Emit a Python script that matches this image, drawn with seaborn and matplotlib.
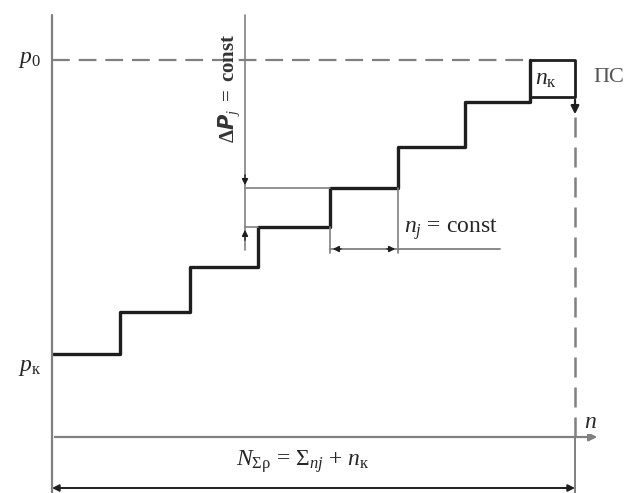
import numpy as np
import pandas as pd
import matplotlib
matplotlib.use('Agg')
import matplotlib.pyplot as plt
import seaborn as sns

# Diagram geometry, in drawing units (x ~ n, y ~ p)
step_edges = [53, 120, 190, 258, 330, 398, 465, 530]
step_levels = [139, 181, 226, 266, 305, 346, 391]
p0_level = 433
box_right = 575
box_bottom = 396
n_axis_level = 56
axis_x = 52
axis_top = 478
dim_level = 5
dp_line_x = 245
nj_level = 244
nj_line_end = 500
n_arrow_end = 600

sns.set_style('white')
plt.rcParams['mathtext.fontset'] = 'custom'
plt.rcParams['mathtext.rm'] = 'Liberation Serif'
plt.rcParams['mathtext.it'] = 'Liberation Serif:italic'
plt.rcParams['mathtext.bf'] = 'Liberation Serif:bold'
plt.rcParams['font.family'] = ['Liberation Serif', 'DejaVu Serif']

fig = plt.figure(figsize=(6.29, 4.93), dpi=100)
ax = fig.add_axes([0, 0, 1, 1])
ax.set_xlim(0, 629)
ax.set_ylim(0, 493)
ax.axis('off')

grey = '#808080'
dark = '#1e1e1e'

# staircase
xs, ys = [], []
for i, lev in enumerate(step_levels):
    xs += [step_edges[i], step_edges[i + 1]]
    ys += [lev, lev]
xs.append(step_edges[-1])
ys.append(p0_level)
stairs = pd.DataFrame({'n': xs, 'p': ys})
sns.lineplot(data=stairs, x='n', y='p', sort=False, estimator=None,
             color=dark, lw=2.4, ax=ax)

# small box n_k
box = pd.DataFrame({'n': [step_edges[-1], box_right, box_right, step_edges[-1]],
                    'p': [p0_level, p0_level, box_bottom, box_bottom]})
sns.lineplot(data=box, x='n', y='p', sort=False, estimator=None,
             color=dark, lw=2.0, ax=ax)

# axes
ax.plot([axis_x, axis_x], [0, axis_top], color=grey, lw=1.6)
ax.annotate('', xy=(n_arrow_end, n_axis_level), xytext=(axis_x, n_axis_level),
            arrowprops=dict(arrowstyle='-|>', color=grey, lw=1.6,
                            mutation_scale=12))

# p0 dashed level
ax.plot([axis_x, step_edges[-1]], [p0_level, p0_level], color=grey, lw=1.6,
        ls=(0, (8, 4)))

# vertical dashed at end of process
ax.plot([box_right, box_right], [box_bottom - 20, n_axis_level], color=grey,
        lw=1.8, ls=(0, (8, 4)))
ax.plot([box_right, box_right], [n_axis_level, 0], color=grey, lw=1.4)
ax.annotate('', xy=(box_right, box_bottom - 20), xytext=(box_right, box_bottom),
            arrowprops=dict(arrowstyle='-|>', color=dark, lw=1.6,
                            mutation_scale=12))

# delta P dimension
ax.plot([dp_line_x, dp_line_x], [step_levels[2] + 17, axis_top], color=grey, lw=1.2)
ax.plot([dp_line_x, step_edges[4]], [step_levels[4], step_levels[4]], color=grey, lw=1.2)
ax.plot([dp_line_x, step_edges[3]], [step_levels[3], step_levels[3]], color=grey, lw=1.2)
ax.annotate('', xy=(dp_line_x, step_levels[4]), xytext=(dp_line_x, step_levels[4] + 16),
            arrowprops=dict(arrowstyle='-|>', color=dark, lw=1.0, mutation_scale=9))
ax.annotate('', xy=(dp_line_x, step_levels[3]), xytext=(dp_line_x, step_levels[3] - 16),
            arrowprops=dict(arrowstyle='-|>', color=dark, lw=1.0, mutation_scale=9))

# n_j dimension
ax.plot([step_edges[4], step_edges[4]], [step_levels[3], nj_level - 4], color=grey, lw=1.2)
ax.plot([step_edges[5], step_edges[5]], [step_levels[4], nj_level - 4], color=grey, lw=1.2)
ax.plot([step_edges[4], nj_line_end], [nj_level, nj_level], color=grey, lw=1.3)
ax.annotate('', xy=(step_edges[4], nj_level), xytext=(step_edges[4] + 14, nj_level),
            arrowprops=dict(arrowstyle='-|>', color=dark, lw=1.0, mutation_scale=9))
ax.annotate('', xy=(step_edges[5], nj_level), xytext=(step_edges[5] - 14, nj_level),
            arrowprops=dict(arrowstyle='-|>', color=dark, lw=1.0, mutation_scale=9))

# total length dimension
ax.annotate('', xy=(axis_x, dim_level), xytext=(box_right, dim_level),
            arrowprops=dict(arrowstyle='<|-|>', color=dark, lw=1.4,
                            mutation_scale=10, shrinkA=0, shrinkB=0))

# labels
fs = 17
white = dict(facecolor='white', edgecolor='none', pad=1)
ax.text(29, p0_level, r'$p_0$', fontsize=fs, ha='center', va='center', bbox=white)
ax.text(30, step_levels[0] - 14, r'$p_{\mathrm{к}}$', fontsize=fs, ha='center',
        va='center', bbox=white)
ax.text(229, 405, r'$\mathbf{\Delta}\boldsymbol{P}_j\ \mathbf{=\ const}$',
        fontsize=15, rotation=90, ha='center', va='center', color='#333333')
ax.text(451, 264, r'$n_j$ = const', fontsize=fs, ha='center', va='center', bbox=white)
ax.text(546, 413, r'$n_{\mathrm{к}}$', fontsize=fs, ha='center', va='center', bbox=white)
ax.text(609, 415, 'ПС', fontsize=16, ha='center', va='center', color='#555555')
ax.text(590, 71, r'$n$', fontsize=fs, ha='center', va='center', bbox=white)
ax.text(303, 31, r'$N_{\Sigma\mathrm{\rho}}$ = $\Sigma_{nj}$ + $n_{\mathrm{к}}$',
        fontsize=fs, ha='center', va='center', bbox=white)

fig.savefig('out.png', dpi=100)
